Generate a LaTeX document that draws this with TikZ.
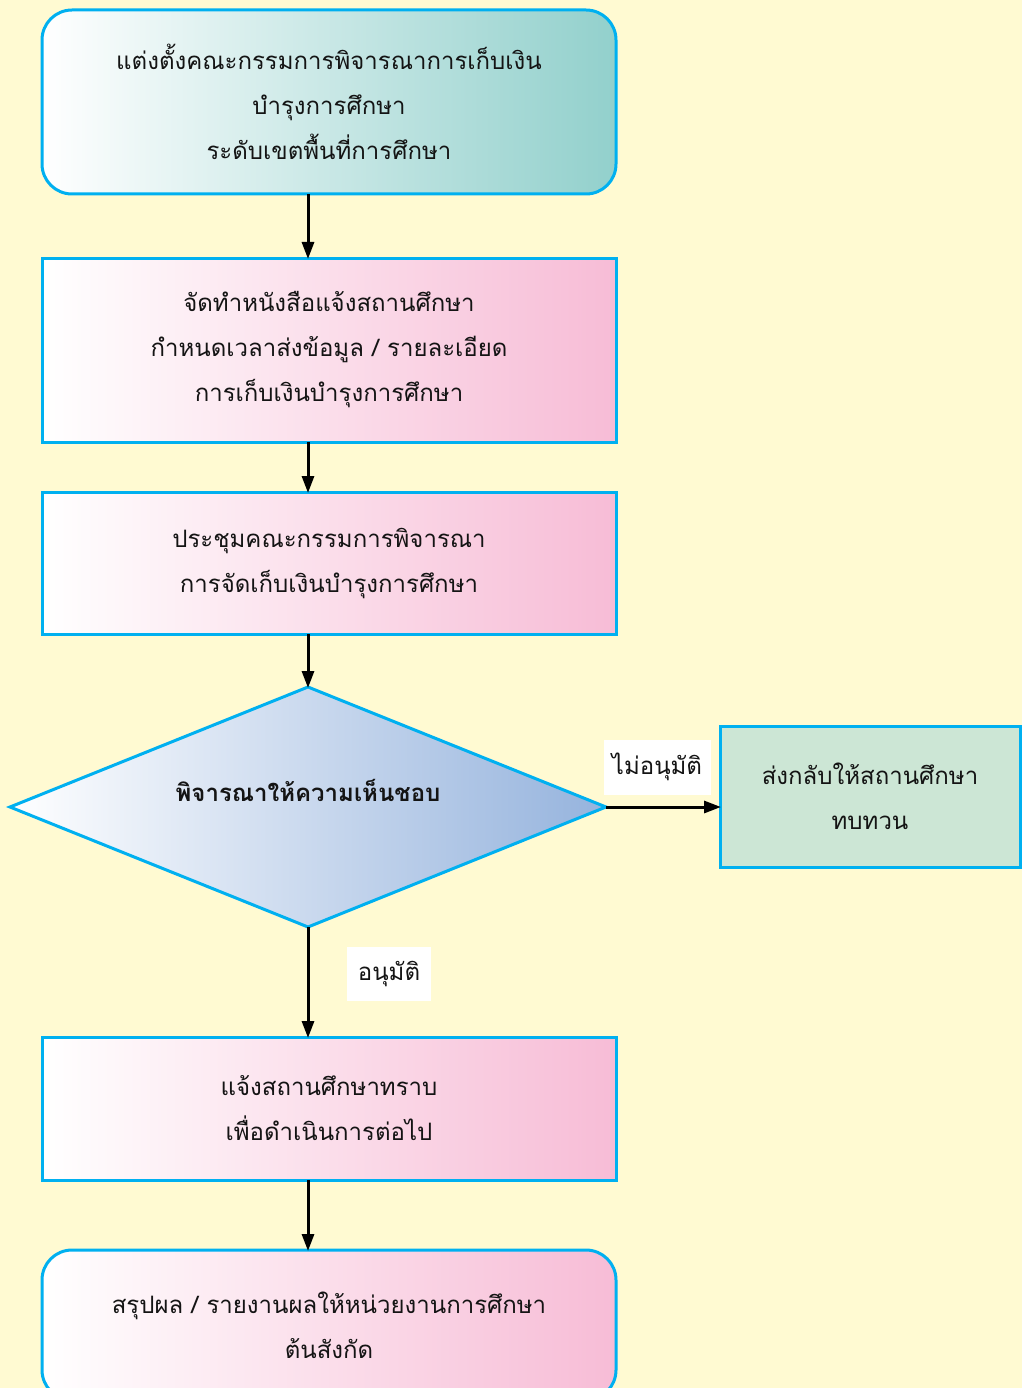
\documentclass[tikz,border=0pt]{standalone}
\usepackage{fontspec}
\newfontfamily\thaifont[Script=Thai]{Loma}
\usetikzlibrary{shapes.geometric,arrows.meta}
\definecolor{bgc}{RGB}{255,250,210}
\definecolor{edgec}{RGB}{0,176,240}
\definecolor{tealc}{RGB}{146,208,204}
\definecolor{pinkc}{RGB}{247,188,214}
\definecolor{bluec}{RGB}{149,179,221}
\definecolor{greenc}{RGB}{204,230,213}
\definecolor{txtc}{RGB}{20,20,20}
\tikzset{
  box/.style={rectangle, draw=edgec, line width=3pt, minimum width=574pt, inner sep=0pt, outer sep=0pt, align=center,
    font=\thaifont\fontsize{24}{45}\selectfont, text=txtc},
  pinkbox/.style={box, left color=white, right color=pinkc},
  roundbox/.style={rounded corners=30pt},
  flow/.style={line width=3pt, -{Triangle[length=17pt,width=12pt]}, shorten >=-1pt},
  lbl/.style={fill=white, inner sep=0pt, font=\thaifont\fontsize{24}{30}\selectfont, text=txtc}
}
\begin{document}
\begin{tikzpicture}[x=1pt,y=-1pt]
\fill[bgc] (0,0) rectangle (1022,1388);
\useasboundingbox (0,0) rectangle (1022,1388);
\node[box, roundbox, left color=white, right color=tealc, minimum height=184pt] (b1) at (329,102)
  {แต่งตั้งคณะกรรมการพิจารณาการเก็บเงิน\\บำรุงการศึกษา\\ระดับเขตพื้นที่การศึกษา};
\node[pinkbox, minimum height=184pt] (b2) at (329,350)
  {จัดทำหนังสือแจ้งสถานศึกษา\\กำหนดเวลาส่งข้อมูล / รายละเอียด\\การเก็บเงินบำรุงการศึกษา};
\node[pinkbox, minimum height=142pt] (b3) at (329,563)
  {ประชุมคณะกรรมการพิจารณา\\การจัดเก็บเงินบำรุงการศึกษา};
\node[diamond, aspect=2.483, draw=edgec, line width=3pt, minimum width=596pt, minimum height=240pt, inner sep=0pt, outer sep=0pt,
  left color=white, right color=bluec, font=\thaifont\bfseries\fontsize{24}{30}\selectfont, text=txtc] (d) at (308,807)
  {\raisebox{34pt}{พิจารณาให้ความเห็นชอบ}};
\node[box, fill=greenc, minimum width=300pt, minimum height=141pt] (r) at (870,796.5)
  {ส่งกลับให้สถานศึกษา\\ทบทวน};
\node[pinkbox, minimum height=143pt] (b5) at (329,1108.5)
  {แจ้งสถานศึกษาทราบ\\เพื่อดำเนินการต่อไป};
\node[pinkbox, roundbox, minimum height=150pt] (b6) at (329,1325)
  {สรุปผล / รายงานผลให้หน่วยงานการศึกษา\\ต้นสังกัด};
\draw[flow] (b1.south -| d.north) -- (b2.north -| d.north);
\draw[flow] (b2.south -| d.north) -- (b3.north -| d.north);
\draw[flow] (b3.south -| d.north) -- (d.north);
\draw[flow] (d.east) -- (r.west |- d.east);
\draw[flow] (d.south) -- (b5.north -| d.south);
\draw[flow] (b5.south -| d.south) -- (b6.north -| d.south);
\node[lbl, minimum width=107pt, minimum height=55pt] (l1) at (657,767) {ไม่อนุมัติ};
\node[lbl, minimum width=84pt, minimum height=54pt] (l2) at (389,974) {อนุมัติ};
\end{tikzpicture}
\end{document}
